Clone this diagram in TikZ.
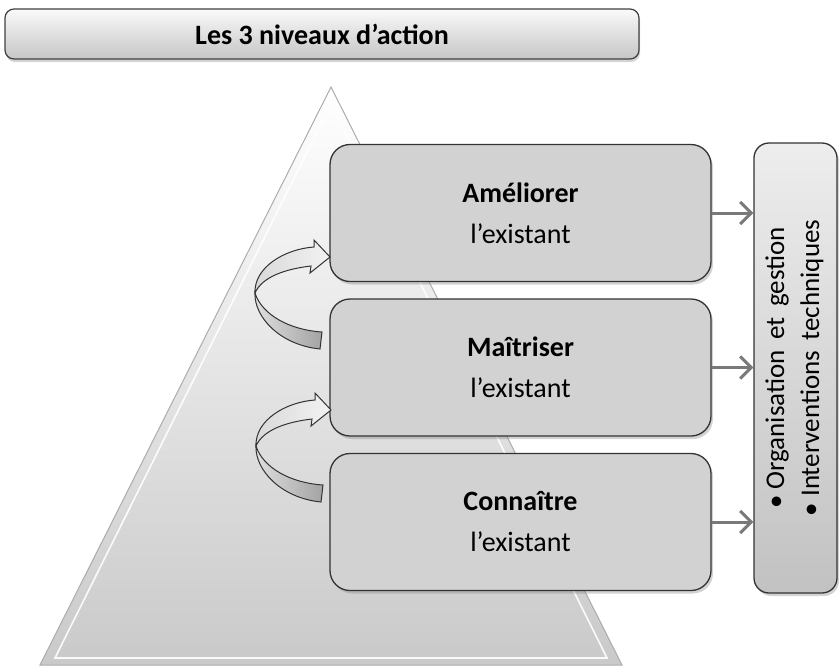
\documentclass[tikz,border=0pt]{standalone}
\usepackage{fontspec}
\setmainfont{Carlito}
\usetikzlibrary{arrows.meta,shadows}

\tikzset{
  titlebox/.style={draw=black!75, line width=1.2pt, rounded corners=9pt,
    top color=gray!4, bottom color=gray!45, minimum width=634pt, minimum height=50pt,
    drop shadow={shadow xshift=1pt, shadow yshift=-3pt, opacity=0.35},
    font=\bfseries\fontsize{28}{32}\selectfont},
  levelbox/.style={draw=black!80, line width=1.3pt, rounded corners=20pt,
    fill=gray!35, minimum width=381pt, minimum height=137pt,
    drop shadow={shadow xshift=2pt, shadow yshift=-3pt, opacity=0.35}},
  leveltext/.style={align=center, font=\fontsize{28}{41}\selectfont},
  sidebox/.style={draw=black!80, line width=1.3pt, rounded corners=15pt,
    top color=gray!14, bottom color=gray!48, minimum width=83pt, minimum height=450pt,
    drop shadow={shadow xshift=2pt, shadow yshift=-3pt, opacity=0.35}},
  linkarrow/.style={draw=gray!95!black, line width=3pt,
    -{Straight Barb[length=11pt,width=22pt,line width=3pt]}},
  bandtop/.style={draw=black!80, line width=1pt, left color=gray!30, right color=gray!10},
  bandlow/.style={draw=black!80, line width=1pt, left color=gray!25, right color=gray!72},
}

\begin{document}
\begin{tikzpicture}[x=1pt,y=-1pt]
\useasboundingbox (0,0) rectangle (840,667);

% title
\node[titlebox] (title) at (322,34) {Les 3 niveaux d’action};

% pyramid with bevelled edge
\shade[top color=white, bottom color=gray!42] (331,87) -- (622,665) -- (40,665) -- cycle;
\draw[gray!65, line width=1pt] (331,87) -- (622,665) -- (40,665) -- cycle;
\draw[white, line width=1.6pt, opacity=0.9] (331,104) -- (607,658) -- (55,658) -- cycle;

% the three levels
\node[levelbox] (b1) at (520.5,213) {};
\node[levelbox] (b2) at (520.5,367.5) {};
\node[levelbox] (b3) at (520.5,522) {};
\node[leveltext] at (b1) {\textbf{Améliorer}\\l’existant};
\node[leveltext] at (b2) {\textbf{Maîtriser}\\l’existant};
\node[leveltext] at (b3) {\textbf{Connaître}\\l’existant};

% side box
\node[sidebox] (side) at (795.5,368) {};
\node[rotate=90, align=center, font=\fontsize{27}{35}\selectfont] at ([xshift=-1pt]side.center)
  {•\ Organisation\ \,et\ \,gestion\\•\ Interventions\ \,techniques};

% links to the side box
\draw[linkarrow] (b1.east) -- (side.west |- b1.east);
\draw[linkarrow] (b2.east) -- (side.west |- b2.east);
\draw[linkarrow] (b3.east) -- (side.west |- b3.east);

% curved arrows climbing from one level to the next
\foreach \tx/\ty in {330/257,331/410}{
  \begin{scope}[shift={(\tx,\ty)}]
    \path[bandlow] (-75,36) .. controls (-68,58) and (-40,73) .. (-8,75)
      -- (-10,92) .. controls (-50,88) and (-76,60) .. (-75,36) -- cycle;
    \path[bandtop] (0,0) -- (-20,16) -- (-19,9)
      .. controls (-45,12) and (-68,20) .. (-75,36)
      .. controls (-76,10) and (-45,-8) .. (-16,-10)
      -- (-16,-17) -- cycle;
  \end{scope}
}
\end{tikzpicture}
\end{document}
